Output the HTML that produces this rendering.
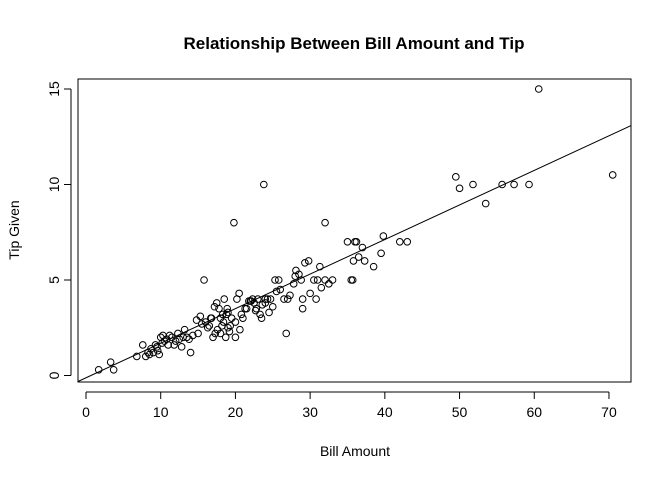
<!DOCTYPE html>
<html><head><meta charset="utf-8"><style>
body{margin:0;background:#fff;}
svg text{font-family:"Liberation Sans",Arial,sans-serif;}
</style></head><body>
<svg id="chart" width="672" height="480" xmlns="http://www.w3.org/2000/svg">
<rect width="672" height="480" fill="#fff"/>
<text x="354" y="49" text-anchor="middle" font-size="17" font-weight="bold">Relationship Between Bill Amount and Tip</text>
<rect x="78" y="79" width="553" height="303" fill="none" stroke="#000" stroke-width="1"/>
<g id="xaxis"></g>
<g id="yaxis"></g>
<text x="355" y="456" text-anchor="middle" font-size="14">Bill Amount</text>
<text transform="translate(19,230) rotate(-90)" text-anchor="middle" font-size="14">Tip Given</text>
<g id="points"></g>
<g id="fit"></g>
</svg>
<script>
const xTicks=[0,10,20,30,40,50,60,70];
const yTicks=[0,5,10,15];
const bills=[1.7,3.3,3.7,6.8,7.6,8,8.3,8.7,9,9.3,9.6,9.8,10,10.3,10.5,10.8,11,11.5,12,12.3,12.8,13,13.5,14,14.3,15,15.3,15.5,15.8,16,16.3,16.8,17,17.2,17.5,17.8,18,18,18.2,18.4,18.5,18.7,18.8,19,19,19.2,19.5,19.8,20,20,20.2,20.5,20.8,21,21.3,21.5,22,22.3,22.5,22.8,23,23.3,23.5,23.8,24,24,24.3,24.7,25,25.3,25.5,25.8,26,26.5,26.8,27,27.3,27.8,28,28.1,28.5,28.8,29,29,29.3,29.8,30,30.5,30.8,31,31.3,31.5,32,32,32.5,33,35,35.5,35.7,35.8,36,36.2,36.5,37,37.3,38.5,39.5,39.8,42,43,49.5,50,51.8,53.5,55.7,57.3,59.3,60.6,70.5,8.5,9.5,10.2,11.2,12.5,13.8,14.8,16.5,17.3,18.3,19.3,21.8,22.7,23.6,16.7,17.6,18.9,20.6,22.1,24.5,11.8,13.2];
const tips=[0.3,0.7,0.3,1.0,1.6,1,1.2,1.4,1.2,1.6,1.3,1.1,2.0,2.1,1.8,1.9,1.6,2.0,1.8,2.2,1.5,2.0,2.0,1.2,2.1,2.2,3.1,2.7,5.0,2.8,2.5,3.0,2.0,3.6,3.8,3.5,2.2,3.0,2.6,2.8,4.0,2.0,3.2,3.3,2.5,2.3,3.0,8.0,2.8,2.0,4.0,4.3,3.2,3.0,3.5,3.5,3.9,4.0,3.8,3.5,4.0,3.2,3.0,10.0,4.0,3.8,4.0,4.0,3.6,5.0,4.4,5.0,4.5,4.0,2.2,4.0,4.2,4.8,5.2,5.5,5.3,5.0,3.5,4.0,5.9,6.0,4.3,5.0,4.0,5.0,5.7,4.6,8.0,5.0,4.8,5.0,7.0,5.0,5.0,6.0,7.0,7.0,6.2,6.7,6.0,5.7,6.4,7.3,7.0,7.0,10.4,9.8,10.0,9.0,10.0,10.0,10.0,15.0,10.5,1.1,1.5,1.7,2.1,1.9,1.9,2.9,2.6,2.2,3.2,2.6,3.9,3.4,3.7,3.0,2.4,3.5,2.4,3.9,3.3,1.6,2.4];
const fitCoef=[-0.12,0.181];
const NS="http://www.w3.org/2000/svg";
const X0=78,X1=631,Y0=79,Y1=382;
function sx(v){return 86+v*7.471;}
function sy(v){return 375.5-v*19.1;}
function mk(t,a,p){const e=document.createElementNS(NS,t);for(const k in a)e.setAttribute(k,a[k]);p.appendChild(e);return e;}
const xa=document.getElementById('xaxis'),ya=document.getElementById('yaxis');
mk('line',{x1:sx(0),x2:sx(70),y1:392,y2:392,stroke:'#000'},xa);
xTicks.forEach(v=>{mk('line',{x1:sx(v),x2:sx(v),y1:392,y2:399,stroke:'#000'},xa);
const t=mk('text',{x:sx(v),y:417,'text-anchor':'middle','font-size':14},xa);t.textContent=v;

});
mk('line',{x1:71,x2:71,y1:sy(0),y2:sy(15),stroke:'#000'},ya);
yTicks.forEach(v=>{mk('line',{x1:64,x2:71,y1:sy(v),y2:sy(v),stroke:'#000'},ya);
const t=mk('text',{transform:`translate(59,${sy(v)}) rotate(-90)`,'text-anchor':'middle','font-size':14},ya);t.textContent=v;

});
const pg=document.getElementById('points');
bills.forEach((b,i)=>{const c=mk('circle',{cx:sx(b),cy:sy(tips[i]),r:3.3,fill:'none',stroke:'#000','stroke-width':1},pg);

});
// regression line clipped to box
const bx0=(X0-86)/7.471,bx1=(X1-86)/7.471;
const l=mk('line',{x1:X0,y1:sy(fitCoef[0]+fitCoef[1]*bx0),x2:X1,y2:sy(fitCoef[0]+fitCoef[1]*bx1),stroke:'#000','stroke-width':1},document.getElementById('fit'));


</script>
</body></html>
